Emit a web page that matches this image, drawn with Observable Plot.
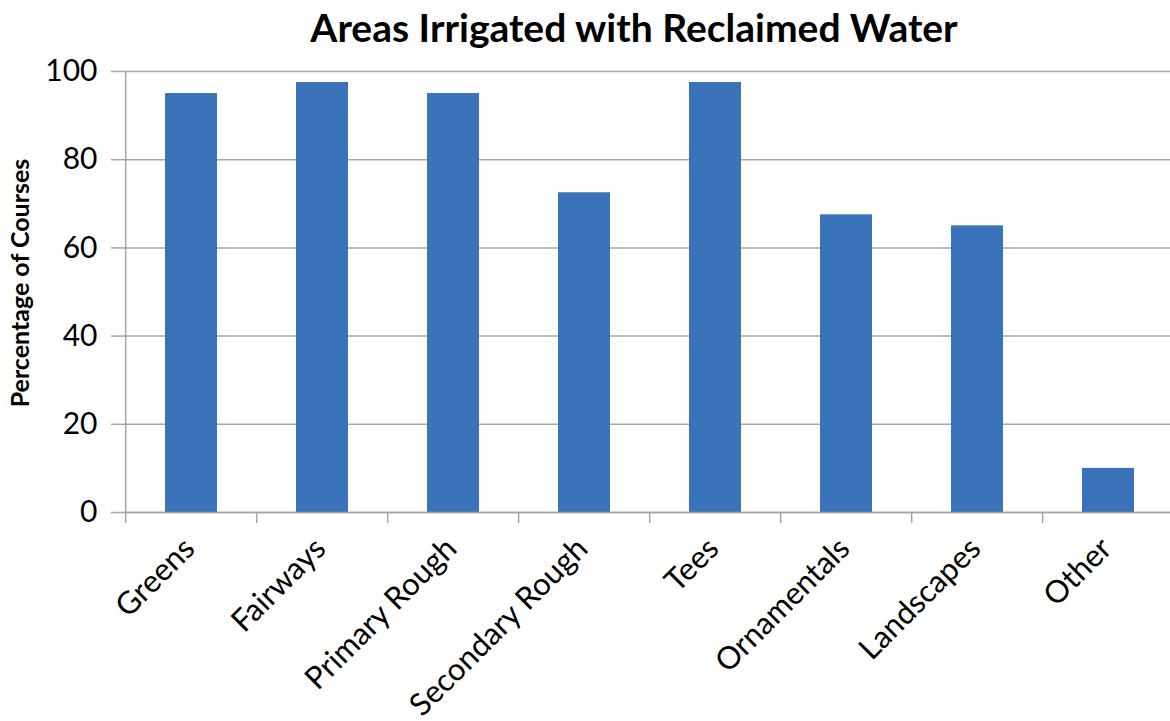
<!DOCTYPE html>
<html>
<head>
<meta charset="utf-8">
<script src="https://cdn.jsdelivr.net/npm/d3@7"></script>
<script src="https://cdn.jsdelivr.net/npm/@observablehq/plot@0.6"></script>
<style>
  html, body { margin: 0; padding: 0; background: #fff; }
  #title { height: 56px; line-height: 54px; text-align: center; font-family: Lato, sans-serif; font-weight: bold; font-size: 39px; color: #000; padding-left: 98px; box-sizing: border-box; width: 1170px; overflow: hidden; }
  #chart svg { display: block; }
</style>
</head>
<body>
<div id="title">Areas Irrigated with Reclaimed Water</div>
<div id="chart"></div>
<script>
const categories = ["Greens", "Fairways", "Primary Rough", "Secondary Rough", "Tees", "Ornamentals", "Landscapes", "Other"];
const values = [95, 97.5, 95, 72.5, 97.5, 67.5, 65, 10];
const yTicks = [0, 20, 40, 60, 80, 100];
const yLabel = "Percentage of Courses";

const data = categories.map((c, i) => ({category: c, value: values[i]}));

const width = 1170, height = 665;
const marginLeft = 123, marginRight = -6, marginTop = 15, marginBottom = 209;
const step = (width - marginLeft - marginRight) / categories.length;
const gray = "#a6a6a6";

const chart = Plot.plot({
  width, height, marginLeft, marginRight, marginTop, marginBottom,
  style: {fontFamily: "Lato, sans-serif", color: "#000", background: "#fff", overflow: "visible"},
  x: {domain: categories, paddingInner: 0.6, paddingOuter: 0.3, label: null},
  y: {domain: [0, 100], label: null},
  marks: [
    Plot.gridY(yTicks, {stroke: gray, strokeOpacity: 1, strokeWidth: 1.5}),
    Plot.axisY(yTicks, {tickSize: 12, tickPadding: 14, fontSize: 30, stroke: gray, strokeWidth: 1.5, label: null}),
    Plot.ruleX([categories[0]], {dx: -step / 2, y1: 0, y2: 100, stroke: gray, strokeWidth: 1.5}),
    Plot.axisX({tickSize: 11, dx: -step / 2, text: null, stroke: gray, strokeWidth: 1.5, label: null}),
    Plot.axisX({tickSize: 0, tickPadding: 31, tickRotate: -45, fontSize: 31, dx: -2, label: null}),
    Plot.barY(data, {x: "category", y: "value", fill: "#3a73ba"}),
    Plot.ruleY([0], {stroke: gray, strokeWidth: 1.5}),
    Plot.text([yLabel], {frameAnchor: "left", textAnchor: "middle", dx: -103, dy: -9, rotate: -90, fontSize: 25, fontWeight: "bold", text: d => d})
  ]
});
document.getElementById("chart").appendChild(chart);
</script>
</body>
</html>
